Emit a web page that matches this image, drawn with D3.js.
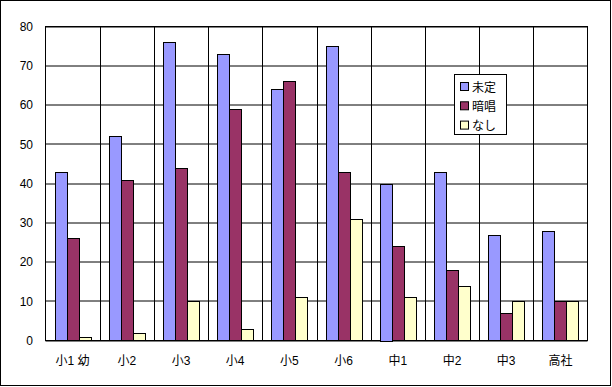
<!DOCTYPE html>
<html><head><meta charset="utf-8">
<script src="https://cdn.jsdelivr.net/npm/d3@7"></script>
<style>body{margin:0;background:#fff}svg{display:block}text{font-family:"Liberation Sans","Noto Sans CJK JP",sans-serif;font-size:12px;fill:#000}</style>
</head><body><svg id="c" width="612" height="387"></svg>
<script>
const categories = ["小1 幼","小2","小3","小4","小5","小6","中1","中2","中3","高社"];
const seriesNames = ["未定","暗唱","なし"];
const mitei = [43,52,76,73,64,75,40,43,27,28];
const ansho = [26,41,44,59,66,43,24,18,7,10];
const nashi = [1,2,10,3,11,31,11,14,10,10];
const yTicks = [0,10,20,30,40,50,60,70,80];
const colors = ["#9999FF","#993366","#FFFFCC"];
const seriesValues = [mitei, ansho, nashi];

const svg = d3.select("#c");
const L=45.5, R=587.5, T=26.5, B=340.5;
svg.append("rect").attr("x",0.5).attr("y",0.5).attr("width",610).attr("height",385).attr("fill","#fff").attr("stroke","#000");
const x = d3.scaleBand().domain(categories).range([L,R]).paddingInner(0).paddingOuter(0);
const xs = d3.scaleBand().domain(seriesNames).range([0,x.bandwidth()]).paddingInner(0).paddingOuter(0.76);
const y = d3.scaleLinear().domain([0,80]).range([B,T]);

// grid
svg.append("g").selectAll("line").data(yTicks).join("line")
  .attr("x1",L).attr("x2",R).attr("y1",d=>Math.round(y(d))).attr("y2",d=>Math.round(y(d)))
  .attr("stroke","#000");
svg.append("g").selectAll("line").data(categories.slice(1)).join("line")
  .attr("x1",d=>Math.round(x(d))+0.5).attr("x2",d=>Math.round(x(d))+0.5).attr("y1",T).attr("y2",B)
  .attr("stroke","#000");
svg.append("rect").attr("x",L).attr("y",T).attr("width",R-L).attr("height",B-T).attr("fill","none").attr("stroke","#000");

// bars
seriesNames.forEach((s,i)=>{
  svg.append("g").selectAll("rect").data(categories).join("rect")
    .attr("x",(d)=>Math.round(x(d)+xs(s))+0.5)
    .attr("width",Math.round(xs.bandwidth()))
    .attr("y",(d,j)=>Math.round(y(seriesValues[i][j]))+0.5)
    .attr("height",(d,j)=>Math.round(B-0.5-y(seriesValues[i][j])))
    .attr("fill",colors[i]).attr("stroke","#000");
});

// y axis labels
const yAxis = d3.axisLeft(y).tickValues(yTicks).tickSize(0).tickPadding(12);
const gy = svg.append("g").attr("transform",`translate(${L-0.5},0)`).call(yAxis);
gy.select(".domain").remove();
gy.selectAll("text").attr("font-size",12).style("font-family",null);

// x axis labels
const xAxis = d3.axisBottom(x).tickSize(0).tickPadding(16);
const gx = svg.append("g").attr("transform",`translate(0,${B})`).call(xAxis);
gx.select(".domain").remove();
gx.selectAll("text").attr("font-size",12).style("font-family",null);

// legend
const lg = svg.append("g");
lg.append("rect").attr("x",454.5).attr("y",74.5).attr("width",52).attr("height",60).attr("fill","#fff").attr("stroke","#000");
seriesNames.forEach((s,i)=>{
  lg.append("rect").attr("x",460.5).attr("y",82.5+i*19.3).attr("width",8).attr("height",8).attr("fill",colors[i]).attr("stroke","#000");
  lg.append("text").attr("x",472).attr("y",91.5+i*19.3).attr("font-size",13).text(s);
});
</script></body></html>
